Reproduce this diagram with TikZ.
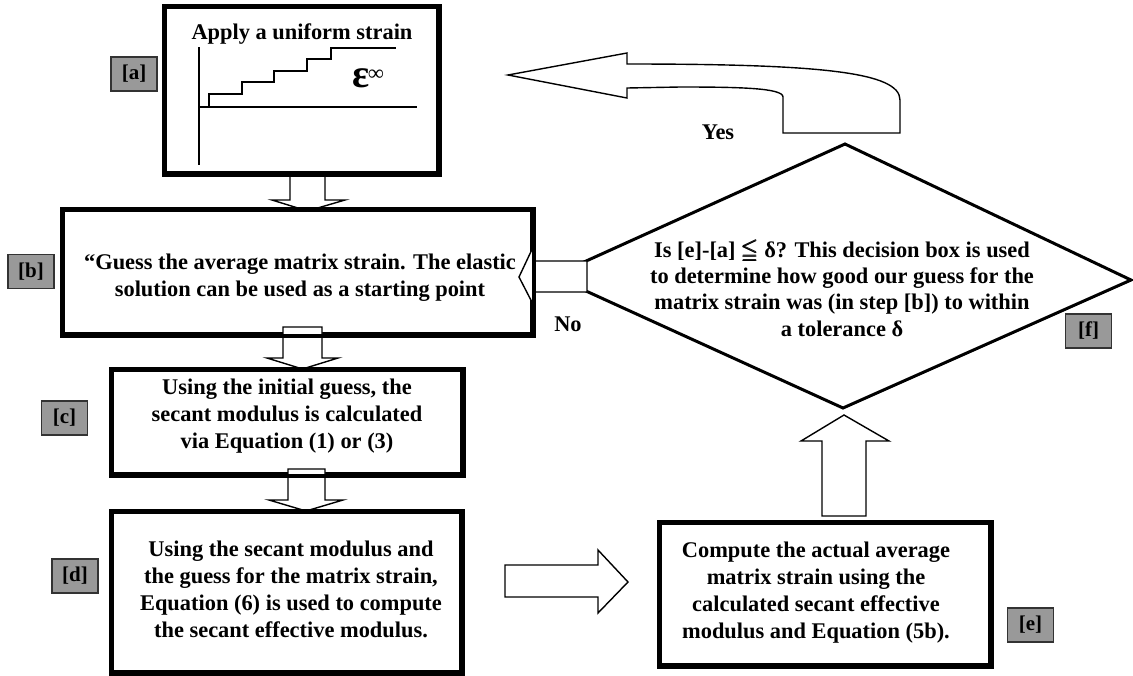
\documentclass[tikz,border=0pt]{standalone}
\usepackage{fontspec}
\setmainfont{Liberation Serif}
\usepackage{amsmath}
\usepackage{amssymb}
\begin{document}
\begin{tikzpicture}[x=1pt,y=-1pt,
  box/.style={draw, line width=3.5pt, inner sep=0pt},
  lbl/.style={draw=black!80, line width=1.3pt, fill=black!40, minimum width=46pt, minimum height=34pt, inner sep=0pt, font=\fontsize{21}{21}\selectfont\bfseries},
  txt/.style={align=center, font=\fontsize{22.4}{27}\selectfont\bfseries, inner sep=0pt},
  barrow/.style={draw, fill=white, line width=1.4pt, line join=miter},
  dia/.style={draw, line width=3pt, line join=miter},
  axis/.style={draw, line width=1.4pt}]
\useasboundingbox (0,0) rectangle (1133,675);

% decision diamond
\draw[dia] (553,276) -- (845,144) -- (1131,280) -- (843,408) -- cycle;
\node[txt, font=\fontsize{22.4}{26.3}\selectfont\bfseries] (tf) at (842,288)
  {Is [e]-[a] $\pmb{\leqq}$ δ? This decision box is used\\to determine how good our guess for the\\matrix strain was (in step [b]) to within\\a tolerance δ};

% boxes
\node[box, minimum width=273pt, minimum height=166pt] (a) at (301.5,90) {};
\node[box, minimum width=469pt, minimum height=124pt] (b) at (297.5,272) {};
\node[box, minimum width=350pt, minimum height=104pt] (c) at (287,422) {};
\node[box, minimum width=349pt, minimum height=160pt] (d) at (286.5,592) {};
\node[box, minimum width=330pt, minimum height=142pt] (e) at (825,594) {};

% block arrows
\draw[barrow] (290,174) -- (290,200) -- (272,200) -- (307.5,211) -- (345,200) -- (325,200) -- (325,174) -- cycle;
\draw[barrow] (283,327) -- (283,358) -- (267,358) -- (302.5,369) -- (338,358) -- (322,358) -- (322,327) -- cycle;
\draw[barrow] (288,469) -- (288,500) -- (269,500) -- (306,511) -- (343,500) -- (325,500) -- (325,469) -- cycle;
\draw[barrow] (587,261) -- (535,261) -- (535,243) -- (519,277) -- (535,308) -- (535,292) -- (587,292) -- cycle;
\draw[barrow] (505,565) -- (598,565) -- (598,550) -- (628,582) -- (598,613) -- (598,597) -- (505,597) -- cycle;
\draw[barrow] (822,516) -- (822,441) -- (801,441) -- (844,415) -- (889,441) -- (866,441) -- (866,516) -- cycle;
\draw[barrow] (508,75) -- (627,53) -- (627,64) .. controls (820,64) and (900,72) .. (900,100)
  -- (900,133) -- (783,133) -- (783,97) .. controls (783,88) and (740,87) .. (680,87) -- (627,88) -- (627,98) -- cycle;

% box borders on top of the arrows
\draw[box] (a.north west) rectangle (a.south east);
\draw[box] (b.north west) rectangle (b.south east);
\draw[box] (c.north west) rectangle (c.south east);
\draw[box] (d.north west) rectangle (d.south east);
\draw[box] (e.north west) rectangle (e.south east);

% box a content
\node[txt] (ta) at (302,34) {Apply a uniform strain};
\draw[axis] (199,47) -- (199,165);
\draw[axis] (199,107) -- (417,107);
\draw[axis] (201,107) -- (209,107) -- (209,94) -- (242,94) -- (242,82) -- (274,82) -- (274,71) -- (307,71) -- (307,59) -- (331,59) -- (331,48) -- (396,48);
\node[inner sep=0pt, font=\fontsize{40}{40}\selectfont\bfseries] (eps) at (368,78) {ε\kern-1pt\raisebox{0.35ex}{\fontsize{22}{22}\selectfont ∞}};

% box texts
\node[txt] (tb) at (300,278) {“Guess the average matrix strain. The elastic\\solution can be used as a starting point};
\node[txt] (tc) at (287,416) {Using the initial guess, the\\secant modulus is calculated\\via Equation (1) or (3)};
\node[txt] (td) at (291,589) {Using the secant modulus and\\the guess for the matrix strain,\\Equation (6) is used to compute\\the secant effective modulus.};
\node[txt] (te) at (816,593) {Compute the actual average\\matrix strain using the\\calculated secant effective\\modulus and Equation (5b).};

% decision labels
\node[txt] (yes) at (718,132) {Yes};
\node[txt] (no) at (568,324) {No};

% step labels
\node[lbl] (la) at (134,74) {[a]};
\node[lbl] (lb) at (31,271.5) {[b]};
\node[lbl] (lc) at (64.5,418) {[c]};
\node[lbl] (ld) at (75,576) {[d]};
\node[lbl] (le) at (1030.5,625) {[e]};
\node[lbl] (lf) at (1088.5,331) {[f]};
\end{tikzpicture}
\end{document}
